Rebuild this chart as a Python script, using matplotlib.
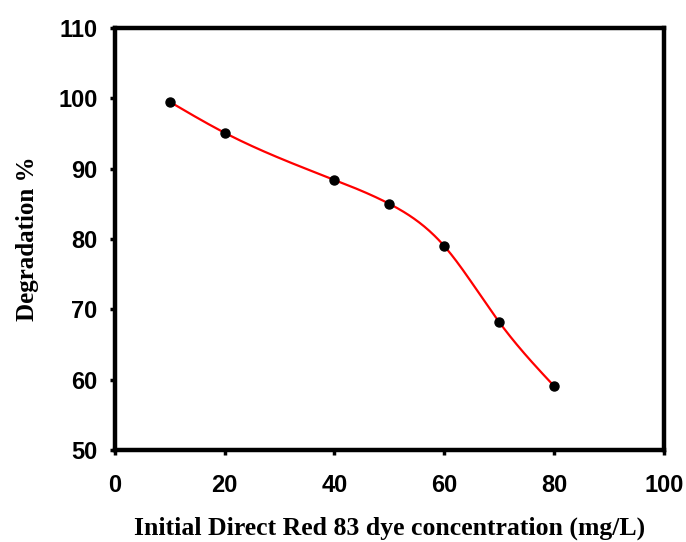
import numpy as np
import matplotlib
matplotlib.use("Agg")
import matplotlib.pyplot as plt

# data
conc = [10, 20, 40, 50, 60, 70, 80]
degradation = [99.5, 95.1, 88.4, 85.0, 79.0, 68.2, 59.1]
x_ticks = [0, 20, 40, 60, 80, 100]
y_ticks = [50, 60, 70, 80, 90, 100, 110]


def natural_spline(x, y, n=300):
    # natural cubic spline, only for drawing the smooth line
    x = np.asarray(x, float)
    y = np.asarray(y, float)
    k = len(x)
    h = np.diff(x)
    A = np.zeros((k, k))
    r = np.zeros(k)
    A[0, 0] = A[-1, -1] = 1
    for i in range(1, k - 1):
        A[i, i - 1] = h[i - 1]
        A[i, i] = 2 * (h[i - 1] + h[i])
        A[i, i + 1] = h[i]
        r[i] = 6 * ((y[i + 1] - y[i]) / h[i] - (y[i] - y[i - 1]) / h[i - 1])
    M = np.linalg.solve(A, r)
    xs = np.linspace(x[0], x[-1], n)
    idx = np.clip(np.searchsorted(x, xs) - 1, 0, k - 2)
    x0, x1 = x[idx], x[idx + 1]
    hh = x1 - x0
    a = (x1 - xs) / hh
    b = (xs - x0) / hh
    ys = (a * y[idx] + b * y[idx + 1]
          + ((a ** 3 - a) * M[idx] + (b ** 3 - b) * M[idx + 1]) * hh ** 2 / 6)
    return xs, ys


tick_font = ['Liberation Sans Narrow', 'Liberation Sans', 'DejaVu Sans']
label_font = ['Liberation Serif', 'DejaVu Serif']

fig = plt.figure(figsize=(6.86, 5.42), dpi=100)
ax = fig.add_axes([0.1676, 0.1697, 0.800, 0.7786])

xs, ys = natural_spline(conc, degradation)
ax.plot(xs, ys, color='red', lw=1.6, zorder=2)
ax.plot(conc, degradation, 'o', color='black', ms=6.5, zorder=3)

ax.set_xlim(0, 100)
ax.set_ylim(50, 110)
ax.set_xticks(x_ticks)
ax.set_yticks(y_ticks)
for s in ax.spines.values():
    s.set_linewidth(3.2)
ax.tick_params(direction='out', length=3.5, width=2.5)
ax.tick_params(axis='x', pad=14)
ax.tick_params(axis='y', pad=9)
for lab in ax.get_xticklabels() + ax.get_yticklabels():
    lab.set_family(tick_font)
    lab.set_fontweight('bold')
    lab.set_fontsize(17)

ax.set_xlabel('Initial Direct Red 83 dye concentration (mg/L)',
              family=label_font, fontweight='bold', fontsize=18.5, labelpad=13.5)
ax.set_ylabel('Degradation %', family=label_font, fontweight='bold',
              fontsize=18, labelpad=14)

fig.savefig('out.png', dpi=100)
